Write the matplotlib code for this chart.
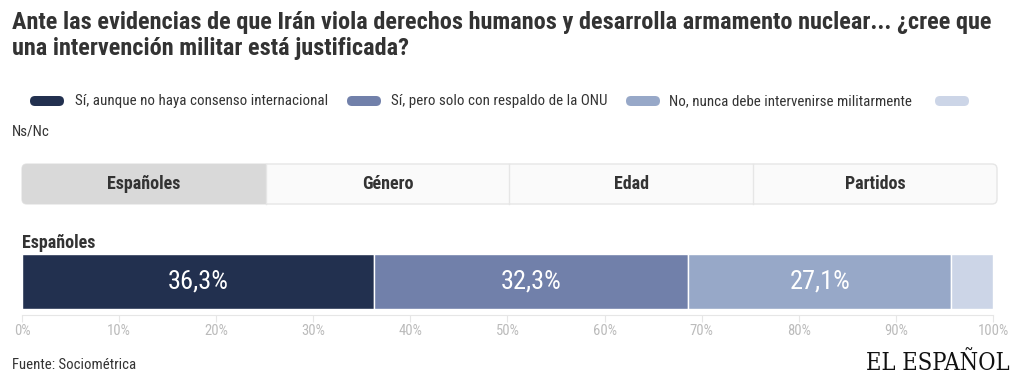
import matplotlib
matplotlib.use("Agg")
import matplotlib.pyplot as plt
from matplotlib.patches import FancyBboxPatch, Rectangle
from matplotlib import font_manager

W, H = 1020, 388

categories = ["Sí, aunque no haya consenso internacional",
              "Sí, pero solo con respaldo de la ONU",
              "No, nunca debe intervenirse militarmente",
              "Ns/Nc"]
values = [36.3, 32.3, 27.1, 4.3]
colors = ["#22304f", "#7180aa", "#97a8c8", "#ccd5e7"]
group = "Españoles"
tabs = ["Españoles", "Género", "Edad", "Partidos"]
ticks = [0, 10, 20, 30, 40, 50, 60, 70, 80, 90, 100]
tick_labels = [f"{t}%" for t in ticks]

avail = {f.name for f in font_manager.fontManager.ttflist}
fam = [f for f in ["Roboto Condensed", "Liberation Sans Narrow", "Open Sans", "DejaVu Sans"] if f in avail]
plt.rcParams['font.family'] = fam + ["DejaVu Sans"]

fig = plt.figure(figsize=(W / 100, H / 100), dpi=100)
fig.patch.set_facecolor("white")

# overlay axes in pixel coordinates
ov = fig.add_axes([0, 0, 1, 1])
ov.set_xlim(0, W)
ov.set_ylim(H, 0)
ov.axis("off")

# Title
ov.text(12, 22, "Ante las evidencias de que Irán viola derechos humanos y desarrolla armamento nuclear... ¿cree que",
        fontsize=17.5, fontweight="bold", color="#333333", va="center", ha="left")
ov.text(12, 48, "una intervención militar está justificada?",
        fontsize=17.5, fontweight="bold", color="#333333", va="center", ha="left")

# Legend
leg_pos = [(30, 75), (347, 391), (626, 669), (935, None)]
for (px, tx), c, lab in zip(leg_pos, colors, categories):
    ov.add_patch(FancyBboxPatch((px, 96), 34, 10,
                                boxstyle="round,pad=0,rounding_size=5",
                                facecolor=c, edgecolor="none"))
    if tx is not None:
        ov.text(tx, 101, lab, fontsize=10.8, color="#333333", va="center", ha="left")
ov.text(12, 132, categories[3], fontsize=10.8, color="#333333", va="center", ha="left")

# Tabs
tx0, ty0, tw, th = 22, 164, 975, 40
ov.add_patch(FancyBboxPatch((tx0, ty0), tw, th, boxstyle="round,pad=0,rounding_size=5",
                            facecolor="#fafafa", edgecolor="#e6e6e6", linewidth=1, zorder=1))
cw = tw / len(tabs)
for i, t in enumerate(tabs):
    if i == 0:
        ov.add_patch(FancyBboxPatch((tx0, ty0), cw, th, boxstyle="round,pad=0,rounding_size=5",
                                    facecolor="#d9d9d9", edgecolor="none", zorder=2))
        ov.add_patch(Rectangle((tx0 + cw - 8, ty0), 8, th, facecolor="#d9d9d9", edgecolor="none", zorder=2))
    else:
        ov.plot([tx0 + i * cw, tx0 + i * cw], [ty0, ty0 + th], color="#e6e6e6", lw=1, zorder=3)
    ov.text(tx0 + (i + 0.5) * cw, ty0 + th / 2, t, fontsize=13, fontweight="bold",
            color="#333333", ha="center", va="center", zorder=4)

# Group label
ov.text(22, 243, group, fontsize=13, fontweight="bold", color="#333333", va="center", ha="left")

# Footer
ov.text(12, 365, "Fuente: Sociométrica", fontsize=10.6, color="#333333", va="center", ha="left")
ov.text(1010, 364, "EL ESPAÑOL", fontsize=17, color="#111111", va="center", ha="right",
        family=["DejaVu Serif", "Liberation Serif"], fontstretch="condensed")

# Bar
ax = fig.add_axes([22 / W, 1 - 309 / H, 971 / W, 55 / H])
ax.set_xlim(0, 100)
ax.set_ylim(0, 1)
ax.patch.set_alpha(0)
left = 0
for v, c in zip(values, colors):
    ax.barh(0.5, v, left=left, height=1, color=c, edgecolor="white", linewidth=1)
    if v > 10:
        ax.text(left + v / 2, 0.5, f"{v:.1f}%".replace(".", ","), color="white",
                fontsize=19, ha="center", va="center")
    left += v
for s in ["top", "right", "left"]:
    ax.spines[s].set_visible(False)
ax.spines["bottom"].set_position(("outward", 4))
ax.spines["bottom"].set_color("#e6e6e6")
ax.set_yticks([])
ax.set_xticks(ticks)
ax.set_xticklabels(tick_labels)
ax.tick_params(axis="x", colors="#e6e6e6", labelcolor="#bbbbbb", labelsize=10.5, length=5, pad=2)

fig.savefig("out.png", dpi=100, facecolor="white")
